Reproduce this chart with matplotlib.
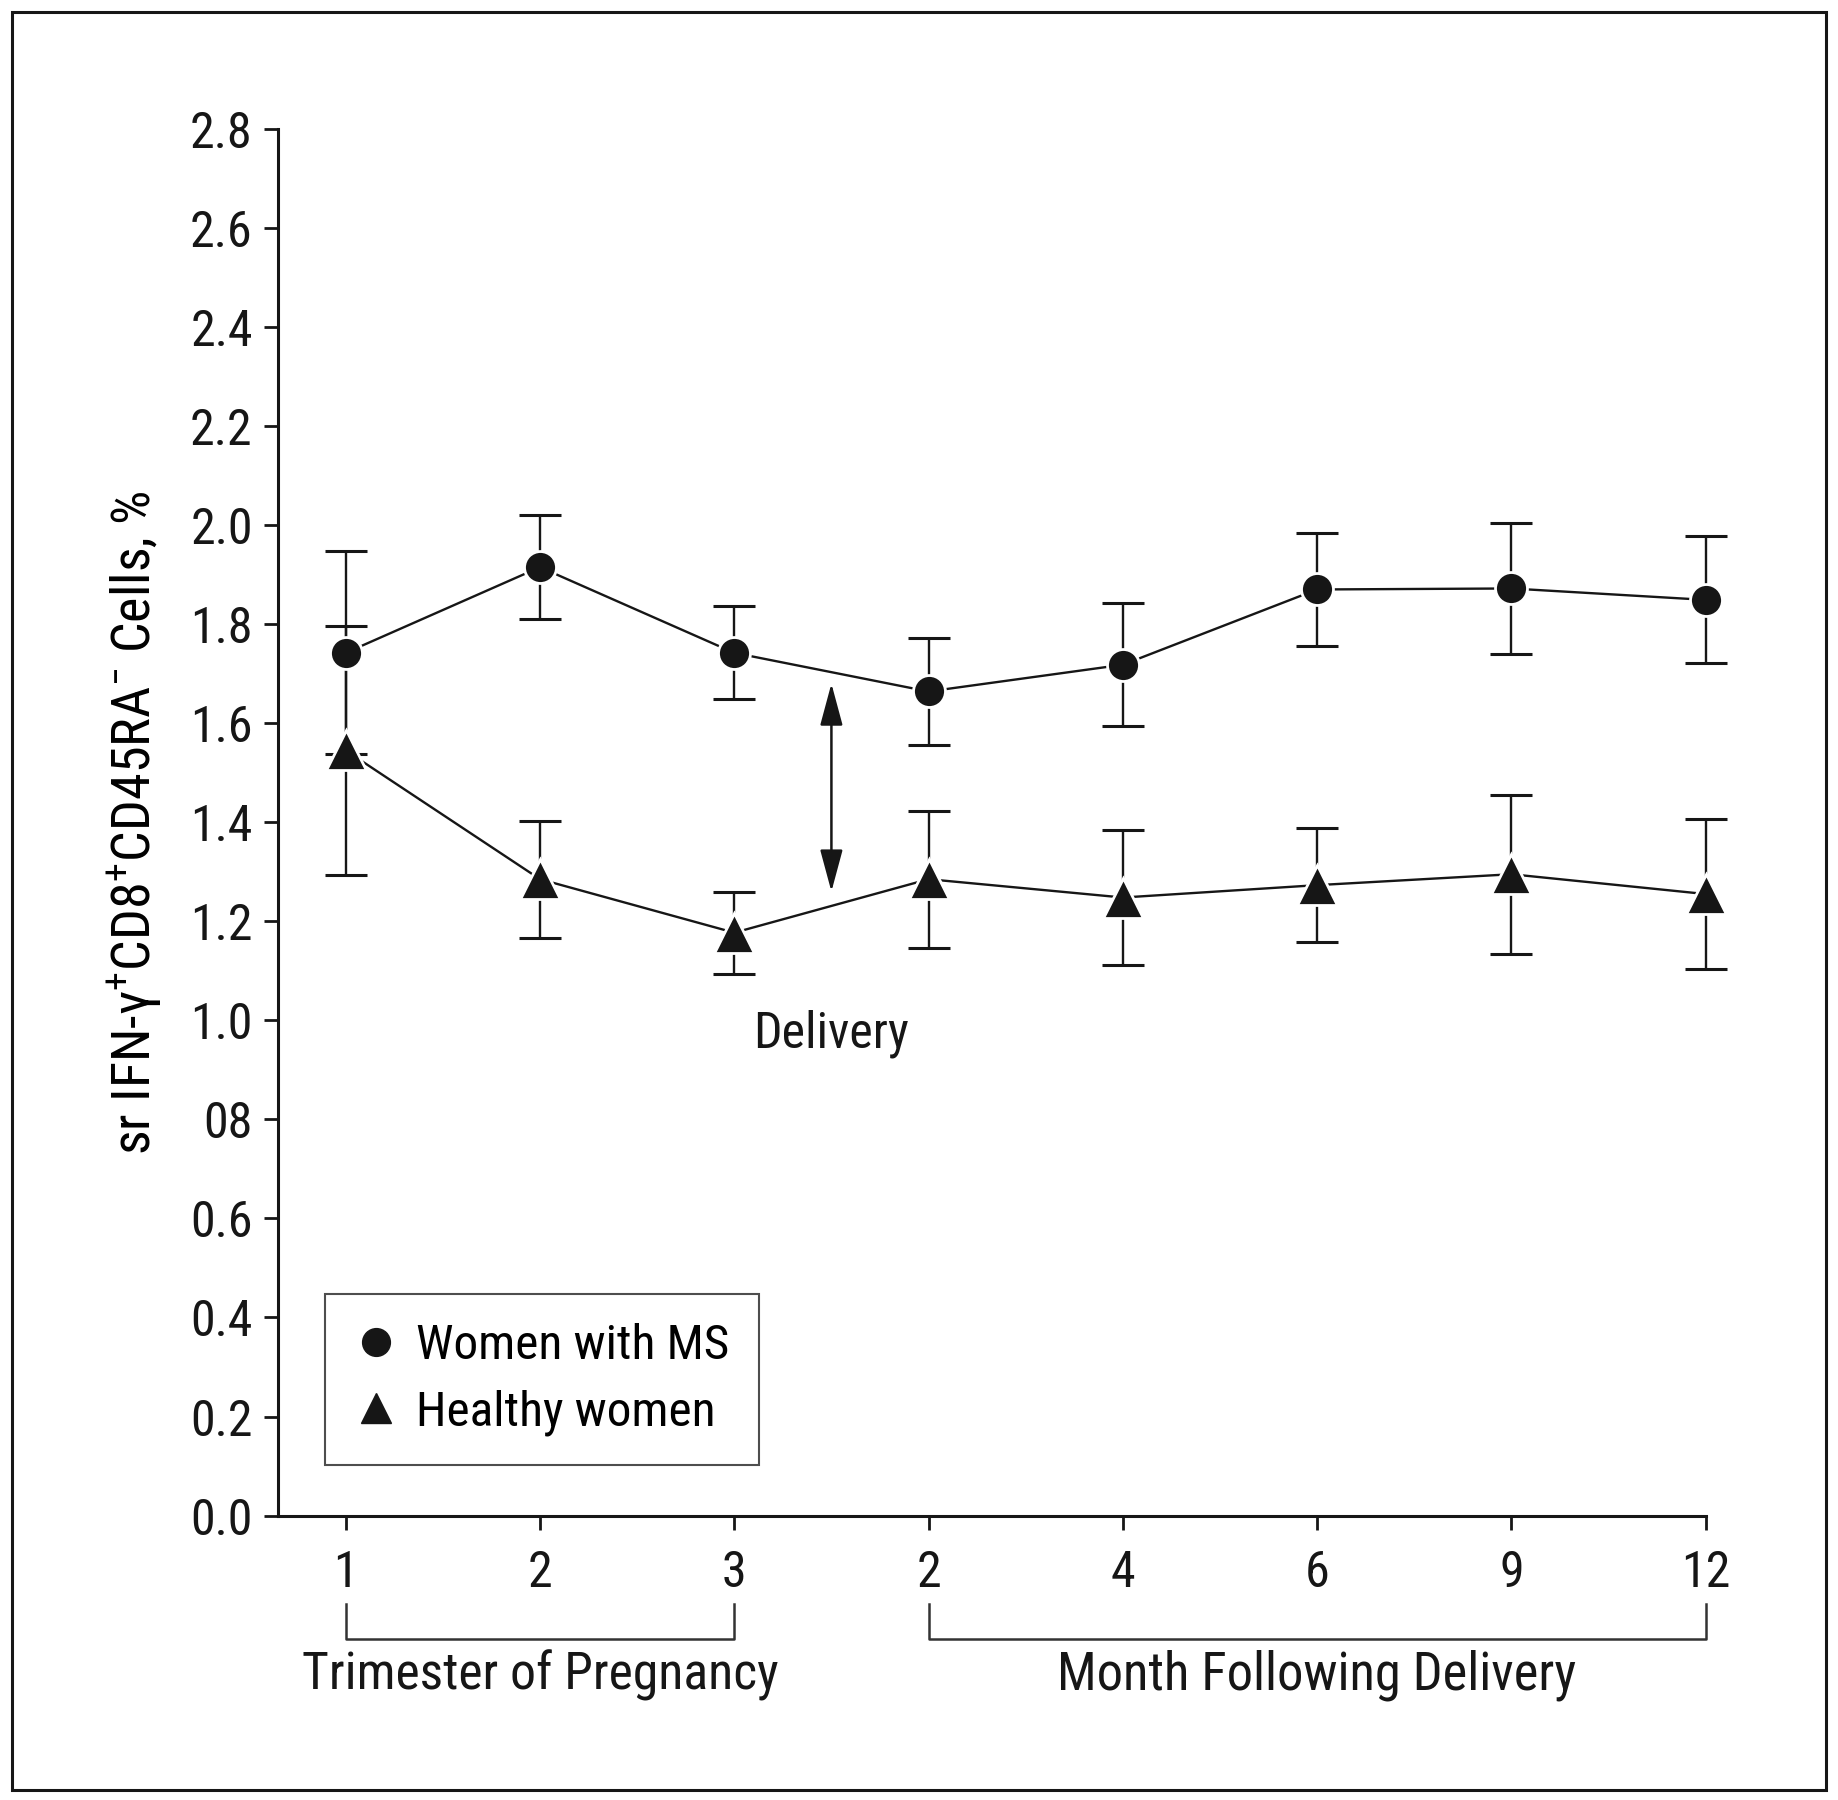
import matplotlib
matplotlib.use("Agg")
import matplotlib.pyplot as plt
from matplotlib import font_manager
from matplotlib.patches import Rectangle
from matplotlib.lines import Line2D

names = {f.name for f in font_manager.fontManager.ttflist}
fam = "DejaVu Sans"
for cand in ["Liberation Sans Narrow", "Nimbus Sans Narrow", "Roboto Condensed",
             "Archivo Narrow", "PT Sans Narrow", "IBM Plex Sans Condensed"]:
    if cand in names:
        fam = cand
        break
plt.rcParams['font.family'] = [fam, 'DejaVu Sans']
plt.rcParams['mathtext.fontset'] = 'custom'
plt.rcParams['mathtext.rm'] = fam
plt.rcParams['mathtext.it'] = fam
plt.rcParams['mathtext.bf'] = fam

# ---- data ----
x_labels = ["1", "2", "3", "2", "4", "6", "9", "12"]
ms_mean = [1.742, 1.915, 1.742, 1.664, 1.718, 1.870, 1.872, 1.849]
ms_err = [0.205, 0.105, 0.094, 0.109, 0.124, 0.114, 0.132, 0.128]
hw_mean = [1.545, 1.285, 1.177, 1.285, 1.248, 1.273, 1.295, 1.255]
hw_err = [0.252, 0.118, 0.083, 0.138, 0.137, 0.115, 0.161, 0.151]
ytick_vals = [0.0, 0.2, 0.4, 0.6, 0.8, 1.0, 1.2, 1.4, 1.6, 1.8, 2.0, 2.2, 2.4, 2.6, 2.8]
ytick_labels = ["0.0", "0.2", "0.4", "0.6", "08", "1.0", "1.2", "1.4", "1.6", "1.8",
                "2.0", "2.2", "2.4", "2.6", "2.8"]
series_names = ["Women with MS", "Healthy women"]
group_labels = ["Trimester of Pregnancy", "Month Following Delivery"]
delivery_label = "Delivery"
arrow_span = (1.26, 1.68)

xs = list(range(1, len(x_labels) + 1))

fig = plt.figure(figsize=(18.38, 18.0), dpi=100)
ax = fig.add_axes([0.1511, 0.158, 0.928 - 0.1511, 0.9284 - 0.158])

ink = '#161616'
for mean, err, mk, ms in [(ms_mean, ms_err, 'o', 23), (hw_mean, hw_err, '^', 29)]:
    ax.errorbar(xs, mean, yerr=err, fmt='none', ecolor=ink, elinewidth=1.7,
                capsize=15, capthick=2.2, zorder=2, clip_on=False)
    ax.plot(xs, mean, color=ink, lw=1.7, zorder=3, clip_on=False)
    ax.plot(xs, mean, linestyle='none', marker=mk, markersize=ms, color=ink,
            markeredgecolor='white', markeredgewidth=2.0, zorder=4, clip_on=False)

ax.set_xlim(0.65, 8)
ax.set_ylim(0, 2.8)
ax.set_xticks(xs)
ax.set_xticklabels(x_labels)
ax.set_yticks(ytick_vals)
ax.set_yticklabels(ytick_labels)
for s in ['top', 'right']:
    ax.spines[s].set_visible(False)
for s in ['left', 'bottom']:
    ax.spines[s].set_linewidth(2.2)
    ax.spines[s].set_color(ink)
ax.tick_params(axis='both', length=10, width=2, colors=ink, labelsize=36, pad=8)
ax.tick_params(axis='x', pad=14)

ax.set_ylabel("sr IFN-γ$^{+}$CD8$^{+}$CD45RA$^{-}$ Cells, %", fontsize=39, labelpad=18)

# delivery arrow
ax.annotate('', xy=(3.5, arrow_span[0]), xytext=(3.5, arrow_span[1]),
            arrowprops=dict(arrowstyle='<|-|>,head_length=1.3,head_width=0.35',
                            color=ink, lw=1.8, mutation_scale=20, shrinkA=0, shrinkB=0))
ax.text(3.5, 0.973, delivery_label, ha='center', va='center', fontsize=36, color=ink)

# brackets
def bracket(x0, x1, label, fs):
    y_top, y_bot = -0.178, -0.2485
    ax.plot([x0, x0, x1, x1], [y_top, y_bot, y_bot, y_top], color='#333333', lw=1.8,
            clip_on=False)
    ax.text((x0 + x1) / 2, -0.322, label, ha='center', va='center', fontsize=fs,
            color=ink, clip_on=False)

bracket(1, 3, group_labels[0], 37.2)
bracket(4, 8, group_labels[1], 37.8)

handles = [Line2D([], [], linestyle='none', marker='o', markersize=20, color=ink),
           Line2D([], [], linestyle='none', marker='^', markersize=22, color=ink)]
leg = ax.legend(handles, series_names, loc='lower left', bbox_to_anchor=(0.0328, 0.0363),
                borderaxespad=0, fontsize=35.5, frameon=True, fancybox=False,
                handlelength=0.9, handletextpad=0.35, borderpad=0.6, labelspacing=0.4)
leg.get_frame().set_edgecolor('#222222')
leg.get_frame().set_linewidth(1.5)

fig.patches.append(Rectangle((12 / 1838, 1 - 1790 / 1800), (1826 - 12) / 1838,
                             (1790 - 12) / 1800, transform=fig.transFigure,
                             fill=False, edgecolor=ink, lw=2.2))

fig.savefig("out.png", dpi=100)
